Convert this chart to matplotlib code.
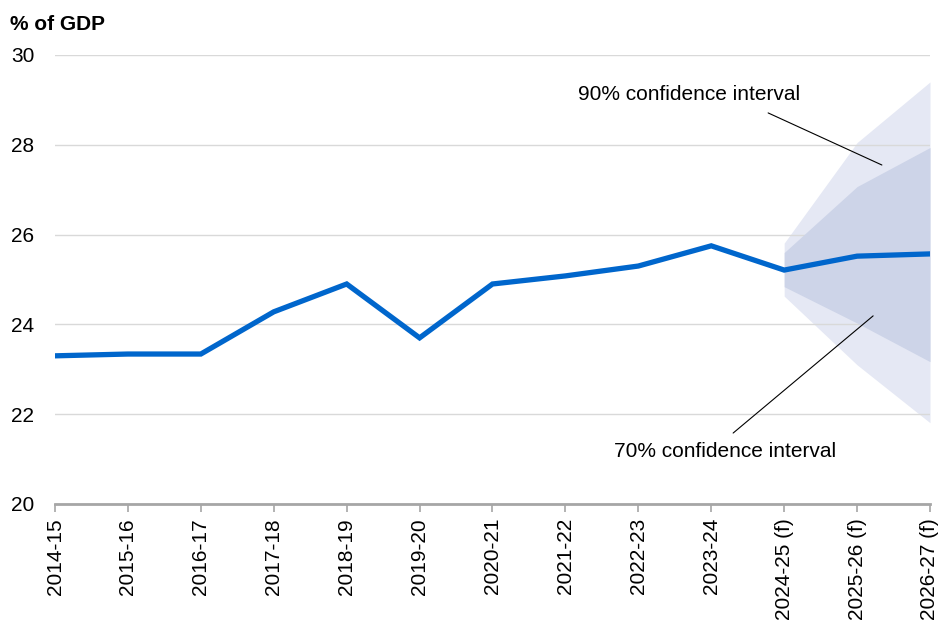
import matplotlib.pyplot as plt
import numpy as np

plt.rcParams['font.family'] = ['Liberation Sans', 'DejaVu Sans']

years = ['2014-15', '2015-16', '2016-17', '2017-18', '2018-19', '2019-20', '2020-21',
         '2021-22', '2022-23', '2023-24', '2024-25 (f)', '2025-26 (f)', '2026-27 (f)']
share = [23.3, 23.34, 23.34, 24.28, 24.9, 23.7, 24.9, 25.08, 25.3, 25.75, 25.21, 25.52, 25.57]

# fan only over the forecast years
fan_idx = [10, 11, 12]
ci90_hi = [25.81, 28.05, 29.4]
ci90_lo = [24.63, 23.1, 21.81]
ci70_hi = [25.6, 27.07, 27.94]
ci70_lo = [24.84, 24.03, 23.17]

fig = plt.figure(figsize=(9.41, 6.23), dpi=100)
ax = fig.add_axes([55 / 941, 1 - 504 / 623, 875 / 941, 449 / 623])

x = np.arange(len(years))
ax.fill_between(fan_idx, ci90_lo, ci90_hi, color='#e5e8f4', lw=0, zorder=1)
ax.fill_between(fan_idx, ci70_lo, ci70_hi, color='#cdd4e8', lw=0, zorder=2)
ax.plot(x, share, color='#0066cc', lw=3.8, solid_joinstyle='miter', zorder=4)

ax.set_xlim(0, len(years) - 1)
ax.set_ylim(20, 30)
ax.set_yticks([20, 22, 24, 26, 28, 30])
ax.set_xticks(x)
ax.set_xticklabels(years, rotation=90, fontsize=15)
ax.tick_params(axis='y', length=0, labelsize=15, pad=15)
ax.tick_params(axis='x', length=6, width=1.2, color='#a6a6a6', pad=4)
ax.grid(axis='y', color='#d9d9d9', lw=1, zorder=0)
for s in ['top', 'right', 'left']:
    ax.spines[s].set_visible(False)
ax.spines['bottom'].set_color('#a6a6a6')
ax.spines['bottom'].set_linewidth(2)
ax.spines['bottom'].set_zorder(5)

fig.text(10 / 941, 1 - 24 / 623, '% of GDP', fontsize=15, fontweight='bold', va='center')

# labels and leader lines
ax.text(8.7, 29.11, '90% confidence interval', fontsize=15, ha='center', va='center')
ax.annotate('', xy=(11.34, 27.55), xytext=(9.78, 28.71),
            arrowprops=dict(arrowstyle='-', color='black', lw=0.8, shrinkA=0, shrinkB=0))
ax.text(9.19, 21.16, '70% confidence interval', fontsize=15, ha='center', va='center')
ax.annotate('', xy=(11.22, 24.19), xytext=(9.3, 21.58),
            arrowprops=dict(arrowstyle='-', color='black', lw=0.8, shrinkA=0, shrinkB=0))

fig.savefig('out.png', dpi=100)
